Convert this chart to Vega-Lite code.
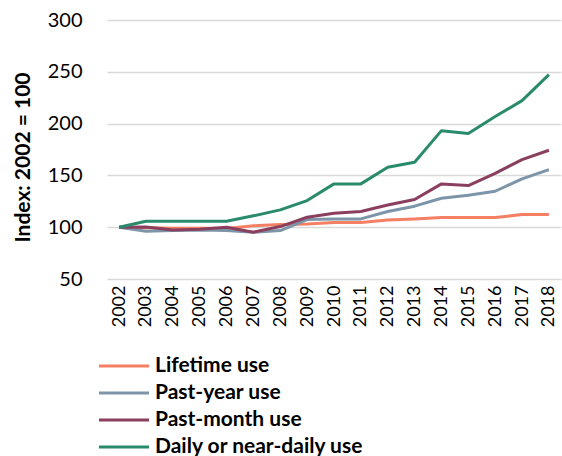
{
  "$schema": "https://vega.github.io/schema/vega-lite/v6.json",
  "width": 454,
  "height": 259,
  "autosize": {"type": "none"},
  "padding": {"left": 107, "top": 20, "right": 1, "bottom": 177},
  "background": "white",
  "config": {
    "font": "Lato",
    "view": {"stroke": null}
  },
  "data": {
    "values": [
      {"year": "2002", "series": "Lifetime use", "value": 100},
      {"year": "2003", "series": "Lifetime use", "value": 99.4},
      {"year": "2004", "series": "Lifetime use", "value": 99},
      {"year": "2005", "series": "Lifetime use", "value": 99},
      {"year": "2006", "series": "Lifetime use", "value": 98.7},
      {"year": "2007", "series": "Lifetime use", "value": 101.3},
      {"year": "2008", "series": "Lifetime use", "value": 102.6},
      {"year": "2009", "series": "Lifetime use", "value": 103.2},
      {"year": "2010", "series": "Lifetime use", "value": 104.5},
      {"year": "2011", "series": "Lifetime use", "value": 104.5},
      {"year": "2012", "series": "Lifetime use", "value": 107},
      {"year": "2013", "series": "Lifetime use", "value": 108},
      {"year": "2014", "series": "Lifetime use", "value": 109.3},
      {"year": "2015", "series": "Lifetime use", "value": 109.3},
      {"year": "2016", "series": "Lifetime use", "value": 109.3},
      {"year": "2017", "series": "Lifetime use", "value": 112.2},
      {"year": "2018", "series": "Lifetime use", "value": 112.2},
      {"year": "2002", "series": "Past-year use", "value": 100},
      {"year": "2003", "series": "Past-year use", "value": 96.1},
      {"year": "2004", "series": "Past-year use", "value": 96.8},
      {"year": "2005", "series": "Past-year use", "value": 97.4},
      {"year": "2006", "series": "Past-year use", "value": 96.8},
      {"year": "2007", "series": "Past-year use", "value": 95.2},
      {"year": "2008", "series": "Past-year use", "value": 96.8},
      {"year": "2009", "series": "Past-year use", "value": 107.4},
      {"year": "2010", "series": "Past-year use", "value": 108},
      {"year": "2011", "series": "Past-year use", "value": 108},
      {"year": "2012", "series": "Past-year use", "value": 115.1},
      {"year": "2013", "series": "Past-year use", "value": 120.3},
      {"year": "2014", "series": "Past-year use", "value": 128},
      {"year": "2015", "series": "Past-year use", "value": 130.9},
      {"year": "2016", "series": "Past-year use", "value": 134.7},
      {"year": "2017", "series": "Past-year use", "value": 146.6},
      {"year": "2018", "series": "Past-year use", "value": 155.6},
      {"year": "2002", "series": "Past-month use", "value": 100},
      {"year": "2003", "series": "Past-month use", "value": 100.3},
      {"year": "2004", "series": "Past-month use", "value": 97.4},
      {"year": "2005", "series": "Past-month use", "value": 98},
      {"year": "2006", "series": "Past-month use", "value": 100},
      {"year": "2007", "series": "Past-month use", "value": 95.2},
      {"year": "2008", "series": "Past-month use", "value": 100.6},
      {"year": "2009", "series": "Past-month use", "value": 109.6},
      {"year": "2010", "series": "Past-month use", "value": 113.5},
      {"year": "2011", "series": "Past-month use", "value": 115.1},
      {"year": "2012", "series": "Past-month use", "value": 121.5},
      {"year": "2013", "series": "Past-month use", "value": 126.7},
      {"year": "2014", "series": "Past-month use", "value": 141.8},
      {"year": "2015", "series": "Past-month use", "value": 140.2},
      {"year": "2016", "series": "Past-month use", "value": 152},
      {"year": "2017", "series": "Past-month use", "value": 165.3},
      {"year": "2018", "series": "Past-month use", "value": 174.3},
      {"year": "2002", "series": "Daily or near-daily use", "value": 100},
      {"year": "2003", "series": "Daily or near-daily use", "value": 105.8},
      {"year": "2004", "series": "Daily or near-daily use", "value": 105.8},
      {"year": "2005", "series": "Daily or near-daily use", "value": 105.8},
      {"year": "2006", "series": "Daily or near-daily use", "value": 105.8},
      {"year": "2007", "series": "Daily or near-daily use", "value": 111},
      {"year": "2008", "series": "Daily or near-daily use", "value": 116.7},
      {"year": "2009", "series": "Daily or near-daily use", "value": 125.7},
      {"year": "2010", "series": "Daily or near-daily use", "value": 141.8},
      {"year": "2011", "series": "Daily or near-daily use", "value": 141.8},
      {"year": "2012", "series": "Daily or near-daily use", "value": 157.9},
      {"year": "2013", "series": "Daily or near-daily use", "value": 162.7},
      {"year": "2014", "series": "Daily or near-daily use", "value": 193.2},
      {"year": "2015", "series": "Daily or near-daily use", "value": 190.4},
      {"year": "2016", "series": "Daily or near-daily use", "value": 206.8},
      {"year": "2017", "series": "Daily or near-daily use", "value": 222.2},
      {"year": "2018", "series": "Daily or near-daily use", "value": 247.3}
    ]
  },
  "mark": {"type": "line", "strokeWidth": 3, "strokeJoin": "round"},
  "encoding": {
    "x": {
      "field": "year",
      "type": "ordinal",
      "scale": {"type": "point", "padding": 0.45},
      "axis": {
        "title": null,
        "labelAngle": -90,
        "labelAlign": "right",
        "labelBaseline": "middle",
        "labelFontSize": 18,
        "labelColor": "#000000",
        "labelPadding": 6,
        "ticks": false,
        "domain": false,
        "grid": false
      }
    },
    "y": {
      "field": "value",
      "type": "quantitative",
      "scale": {"domain": [50, 300], "nice": false, "zero": false},
      "axis": {
        "values": [50, 100, 150, 200, 250, 300],
        "title": "Index: 2002 = 100",
        "titleFontSize": 21,
        "titleFontWeight": "bold",
        "titleColor": "#000000",
        "titleX": -74,
        "titleY": 137,
        "titleAngle": -90,
        "titleBaseline": "bottom",
        "labelFontSize": 20,
        "labelColor": "#000000",
        "labelPadding": 25,
        "ticks": false,
        "domain": false,
        "grid": true,
        "gridColor": "#d9d9d9",
        "gridWidth": 1.5
      }
    },
    "color": {
      "field": "series",
      "type": "nominal",
      "scale": {
        "domain": ["Lifetime use", "Past-year use", "Past-month use", "Daily or near-daily use"],
        "range": ["#F47F63", "#7C95A8", "#8B3F5F", "#2A8B6C"]
      },
      "legend": {
        "title": null,
        "orient": "none",
        "legendX": 3,
        "legendY": 332,
        "direction": "vertical",
        "symbolType": "M-2,0L2,0",
        "symbolSize": 625,
        "symbolStrokeWidth": 3,
        "labelFontSize": 21,
        "labelFontWeight": "bold",
        "labelColor": "#000000",
        "labelOffset": 17,
        "labelLimit": 400,
        "rowPadding": 3,
        "symbolOffset": 0
      }
    }
  }
}
